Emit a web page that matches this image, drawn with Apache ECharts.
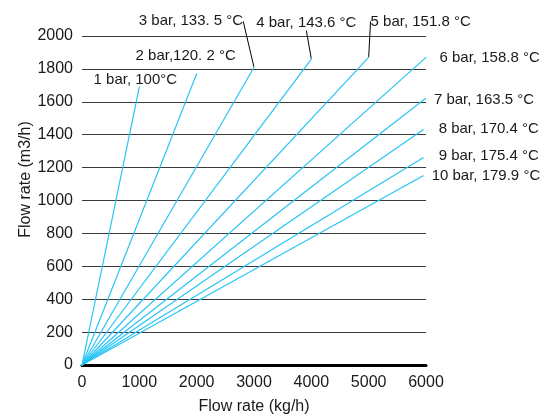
<!DOCTYPE html>
<html><head><meta charset="utf-8">
<script src="https://cdn.jsdelivr.net/npm/echarts@6/dist/echarts.min.js"></script>
<style>html,body{margin:0;padding:0;background:#fff}#c{width:557px;height:420px}</style>
</head><body><div id="c"></div>
<script>
const seriesNames = ['1 bar, 100°C', '2 bar,120. 2 °C', '3 bar, 133. 5 °C', '4 bar, 143.6 °C', '5 bar, 151.8 °C',
  '6 bar, 158.8 °C', '7 bar, 163.5 °C', '8 bar, 170.4 °C', '9 bar, 175.4 °C', '10 bar, 179.9 °C'];
const endMass = [1000, 2000, 3000, 4000, 5000, 6000, 5990, 5950, 5950, 5950];      // kg/h
const endVolume = [1690, 1770, 1810, 1860, 1870, 1870, 1620, 1430, 1260, 1150];   // m3/h
const xTicks = [0, 1000, 2000, 3000, 4000, 5000, 6000];
const yTicks = [0, 200, 400, 600, 800, 1000, 1200, 1400, 1600, 1800, 2000];

const FONT = 'Liberation Sans';
const TXT = '#1a1a1a';
const BLUE = '#27c4f4';

// label placement per series (style only)
const labelCfg = [
  {position: 'top', distance: 0, offset: [-4, 1]},
  {position: 'top', distance: 0, offset: [-11, -10]},
  {position: 'top', distance: 0, layout: {dx: -63, dy: -38}, guide: true},
  {position: 'top', distance: 0, layout: {dx: -5, dy: -28}, guide: true},
  {position: 'top', distance: 0, layout: {dx: 52, dy: -28}, guide: true},
  {position: 'right', distance: 13, offset: [0, 0]},
  {position: 'right', distance: 8, offset: [0, 1]},
  {position: 'right', distance: 15, offset: [0, -1]},
  {position: 'right', distance: 15, offset: [0, -2]},
  {position: 'right', distance: 8, offset: [0, 0]}
];

const series = seriesNames.map((name, i) => {
  const c = labelCfg[i];
  const s = {
    name: name,
    type: 'line',
    symbol: 'circle',
    symbolSize: 1,
    showSymbol: true,
    z: 5,
    lineStyle: {color: BLUE, width: 1.2},
    itemStyle: {color: BLUE},
    emphasis: {disabled: true},
    data: [
      {value: [0, 0], label: {show: false}},
      {value: [endMass[i], endVolume[i]], label: {
        show: true, formatter: name, position: c.position, distance: c.distance,
        offset: c.offset || [0, 0], color: TXT, fontFamily: FONT, fontSize: 15
      }}
    ]
  };
  if (c.guide) {
    s.labelLayout = c.layout;
    s.labelLine = {show: true, lineStyle: {color: '#000', width: 1}};
  }
  return s;
});

const chart = echarts.init(document.getElementById('c'));
chart.setOption({
  animation: false,
  backgroundColor: '#fff',
  grid: {left: 82, right: 131, top: 36, bottom: 52},
  xAxis: {
    type: 'value', min: 0, max: 6000, interval: 1000,
    name: 'Flow rate (kg/h)', nameLocation: 'middle', nameGap: 34, nameMoveOverlap: false,
    nameTextStyle: {color: TXT, fontFamily: FONT, fontSize: 16},
    axisLine: {show: true, lineStyle: {color: '#000', width: 3}},
    axisTick: {show: false},
    splitLine: {show: false},
    axisLabel: {color: TXT, fontFamily: FONT, fontSize: 16, margin: 10,
      formatter: v => xTicks.includes(v) ? String(v) : ''}
  },
  yAxis: {
    type: 'value', min: 0, max: 2000, interval: 200,
    name: 'Flow rate (m3/h)', nameLocation: 'middle', nameGap: 48, nameMoveOverlap: false,
    nameTextStyle: {color: TXT, fontFamily: FONT, fontSize: 16, padding: [0, 0, 0, 42]},
    axisLine: {show: false},
    axisTick: {show: false},
    splitLine: {show: true, lineStyle: {color: '#3a3a3a', width: 1}},
    axisLabel: {color: TXT, fontFamily: FONT, fontSize: 16, margin: 9,
      formatter: v => yTicks.includes(v) ? String(v) : ''}
  },
  series: series
});
</script>
</body></html>
